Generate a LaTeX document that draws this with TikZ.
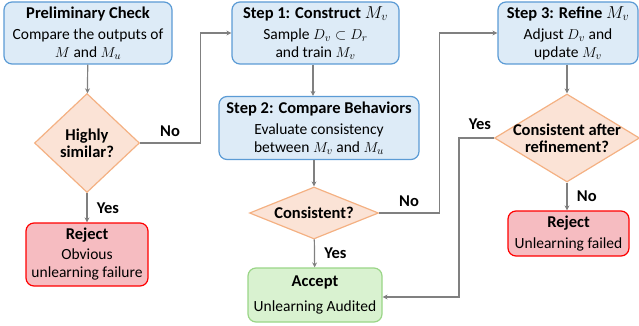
\documentclass[tikz,border=0pt]{standalone}
\usepackage{fontspec}
\setmainfont{Carlito}
\usetikzlibrary{shapes.geometric,arrows.meta}
\definecolor{boxblue}{HTML}{DDEBF7}
\definecolor{lineblue}{HTML}{5B9BD5}
\definecolor{decfill}{HTML}{FBE3D6}
\definecolor{decline}{HTML}{F4B183}
\definecolor{rejfill}{HTML}{F6BCC1}
\definecolor{accfill}{HTML}{D9F2D0}
\definecolor{accline}{HTML}{9AD587}
\newcommand{\ttl}[1]{{\fontsize{16.5}{18}\selectfont\bfseries #1}}
\begin{document}
\begin{tikzpicture}[x=1pt,y=-1pt,
  font=\fontsize{15.5}{18}\selectfont,
  stepbox/.style={draw=lineblue,fill=boxblue,line width=1.2pt,rounded corners=8pt,align=center,inner sep=0pt},
  rejbox/.style={draw=red,fill=rejfill,line width=1.2pt,rounded corners=8pt,align=center,inner sep=0pt},
  accbox/.style={draw=accline,fill=accfill,line width=1.2pt,rounded corners=8pt,align=center,inner sep=0pt},
  decision/.style={diamond,draw=decline,fill=decfill,line width=1.2pt,inner sep=0pt},
  dlab/.style={align=center,font=\fontsize{16.5}{17}\selectfont\bfseries},
  arr/.style={draw=gray,line width=1.2pt,-{Stealth[length=5pt,width=5pt]}},
  ans/.style={font=\fontsize{16.5}{18}\selectfont\bfseries}]
\useasboundingbox (0,0) rectangle (639,326);
\node[stepbox,minimum width=168pt,minimum height=62pt] (prelim) at (88,33)
  {\ttl{Preliminary Check}\\[3pt] Compare the outputs of\\ $M$ and $M_u$};
\node[stepbox,minimum width=167pt,minimum height=62pt] (step1) at (315.5,33)
  {\ttl{Step 1: Construct $M_v$}\\[3pt] Sample $D_v\subset D_r$\\ and train $M_v$};
\node[stepbox,minimum width=200pt,minimum height=63pt] (step2) at (319,128)
  {\ttl{Step 2: Compare Behaviors}\\[3pt] Evaluate consistency\\ between $M_v$ and $M_u$};
\node[stepbox,minimum width=140pt,minimum height=62pt] (step3) at (568,33)
  {\ttl{Step 3: Refine $M_v$}\\[3pt] Adjust $D_v$ and\\ update $M_v$};
\node[decision,minimum width=105pt,minimum height=99pt,label={[dlab]center:Highly\\similar?}] (sim) at (87,143) {};
\node[decision,minimum width=129pt,minimum height=52pt,label={[dlab]center:Consistent?}] (cons) at (314,213) {};
\node[decision,minimum width=145pt,minimum height=88pt,label={[dlab]center:Consistent after\\refinement?}] (refd) at (567,138) {};
\node[rejbox,minimum width=122pt,minimum height=63pt] (rej1) at (87,254.5)
  {\ttl{Reject}\\[2pt] Obvious\\ unlearning failure};
\node[accbox,minimum width=134pt,minimum height=54pt] (acc) at (315,295)
  {\ttl{Accept}\\[7pt] Unlearning Audited};
\node[rejbox,minimum width=121pt,minimum height=45pt] (rej2) at (568.5,233.5)
  {\ttl{Reject}\\[3pt] Unlearning failed};
\draw[arr] (prelim) -- (sim);
\draw[arr] (sim) -- node[ans,right=6pt]{Yes} (rej1);
\draw[arr] (sim.east) -- ++(60,0) node[ans,pos=0.5,above=2pt]{No} |- (step1.west);
\draw[arr] (step1.south -| 313,0) -- (step2.north -| 313,0);
\draw[arr] (step2.south -| 314,0) -- (cons.north);
\draw[arr] (cons) -- node[ans,right=6pt]{Yes} (acc);
\draw[arr] (cons.east) -- ++(60,0) node[ans,pos=0.5,above=2pt]{No} |- (step3.west);
\draw[arr] (step3.south -| 567,0) -- (refd.north);
\draw[arr] (refd) -- node[ans,right=6pt]{No} (rej2.north -| 567,0);
\draw[arr] (refd.west) -- ++(-35,0) node[ans,pos=0.4,above=4pt]{Yes} |- ([yshift=-2pt]acc.east);
\end{tikzpicture}
\end{document}
